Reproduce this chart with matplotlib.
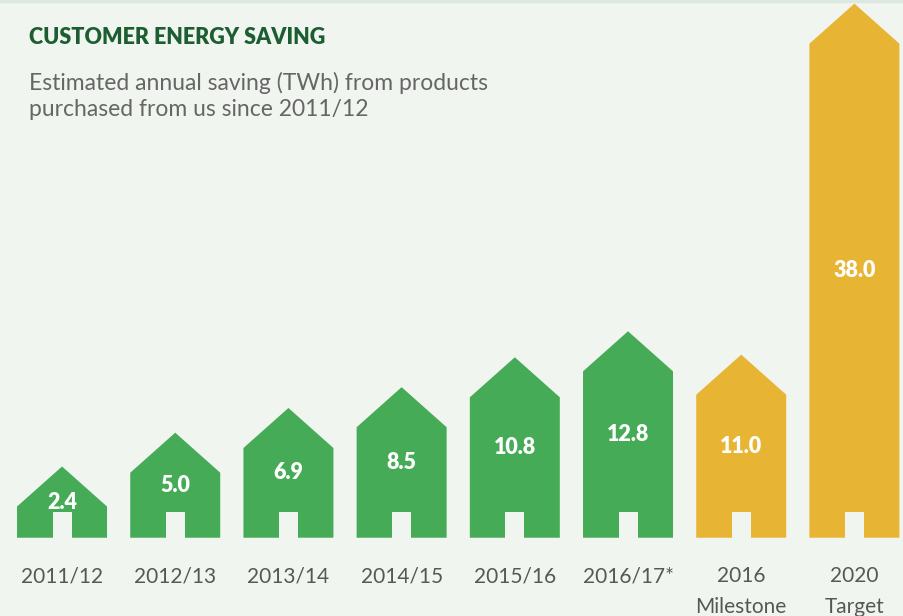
import matplotlib.pyplot as plt
from matplotlib.patches import Polygon, Rectangle

# estimated annual saving, TWh
categories = ["2011/12", "2012/13", "2013/14", "2014/15", "2015/16", "2016/17*",
              "2016\nMilestone", "2020\nTarget"]
savings = [2.4, 5.0, 6.9, 8.5, 10.8, 12.8, 11.0, 38.0]
labels = ["2.4", "5.0", "6.9", "8.5", "10.8", "12.8", "11.0", "38.0"]
is_goal = [False, False, False, False, False, False, True, True]

BG = "#f1f5f0"
GREEN = "#45ab57"
GOLD = "#e8b433"

fig = plt.figure(figsize=(9.04, 6.16), dpi=100, facecolor=BG)
ax = fig.add_axes([0, 0, 1, 1])
ax.set_facecolor(BG)
ax.set_xlim(-0.548, 7.438)
ax.set_ylim(-6.02, 41.36)
ax.axis("off")

half_w = 0.3975   # half house width
roof_h = 3.08     # roof rise
door_w = 0.084    # half door width
door_h = 2.0

for i, (v, lab, goal) in enumerate(zip(savings, labels, is_goal)):
    col = GOLD if goal else GREEN
    house = Polygon([(i - half_w, 0), (i - half_w, v), (i, v + roof_h),
                     (i + half_w, v), (i + half_w, 0)],
                    closed=True, facecolor=col, edgecolor="none")
    ax.add_patch(house)
    ax.add_patch(Rectangle((i - door_w, 0), 2 * door_w, door_h,
                           facecolor=BG, edgecolor="none"))
    ax.text(i, (v + roof_h) / 2, lab, ha="center", va="center",
            color="white", fontsize=15.5, fontweight="heavy", family="Lato")

for i, cat in enumerate(categories):
    ax.text(i, -2.2, cat, ha="center", va="top", color="#575757",
            fontsize=15, family="Lato", linespacing=1.65)

# thin rule along the top edge
ax.plot([0, 1], [0.998, 0.998], transform=fig.transFigure, color="#dde8e0", lw=2.5)

fig.text(29 / 904, 1 - 37 / 616, "CUSTOMER ENERGY SAVING", ha="left", va="center",
         color="#1c5e32", fontsize=15.5, fontweight="heavy", family="Lato")
fig.text(29 / 904, 1 - 96 / 616,
         "Estimated annual saving (TWh) from products\npurchased from us since 2011/12",
         ha="left", va="center", color="#666666", fontsize=16.5,
         family="Lato", linespacing=1.25)

fig.savefig("out.png", dpi=100, facecolor=BG)
